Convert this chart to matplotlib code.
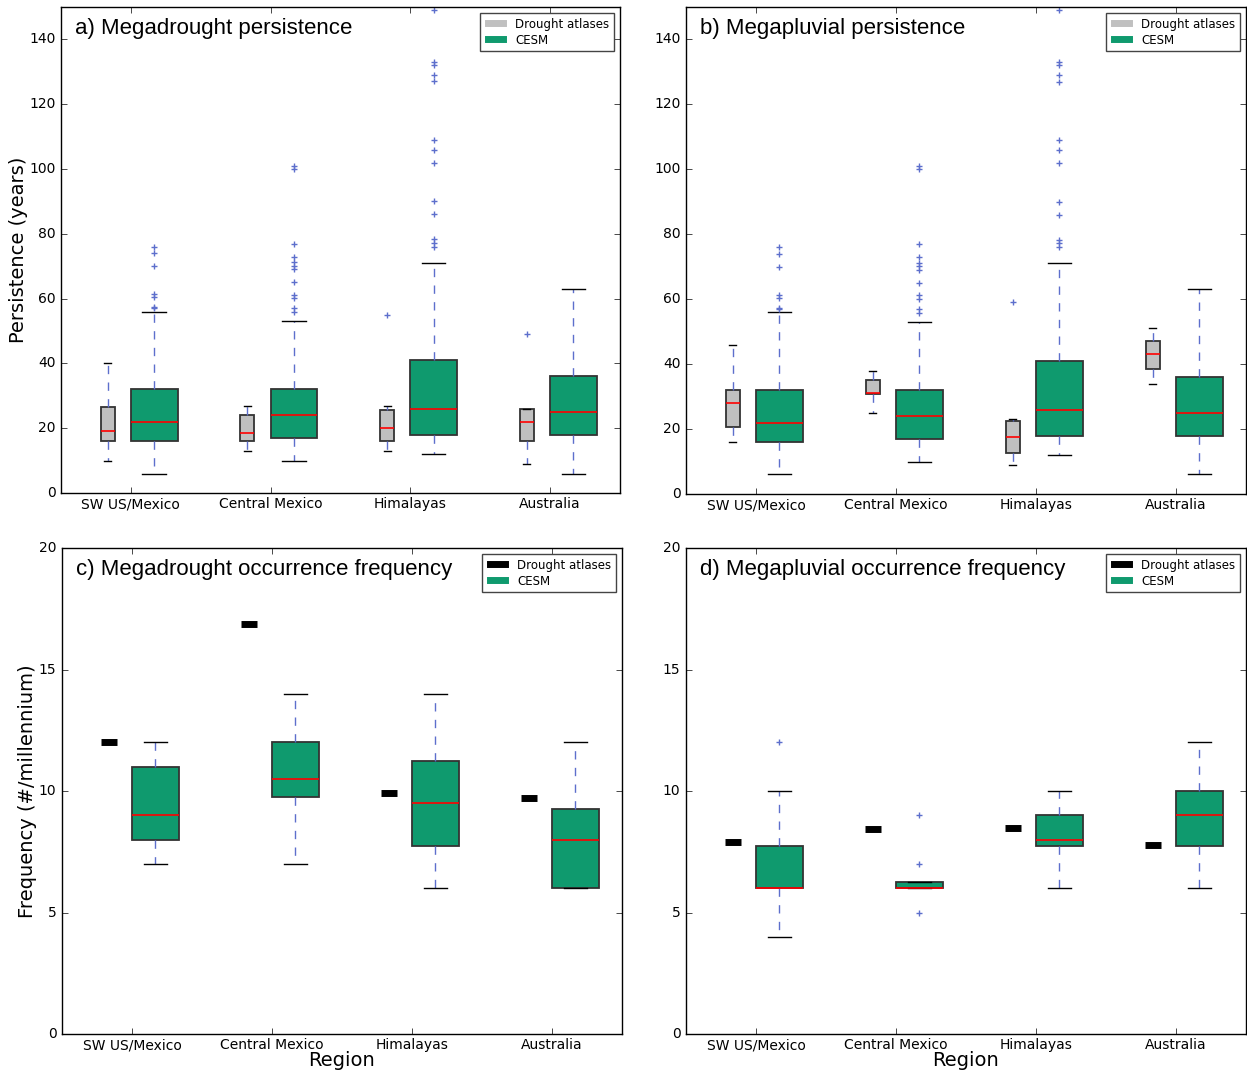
import numpy as np
import matplotlib
matplotlib.use('Agg')
import matplotlib.pyplot as plt
from matplotlib.lines import Line2D

# regions on the x axis
regions = ['SW US/Mexico', 'Central Mexico', 'Himalayas', 'Australia']

# megadrought persistence, drought atlases (years)
dro_atlas_lo = [10, 13, 13, 9]
dro_atlas_q1 = [16, 16, 16, 16]
dro_atlas_med = [19, 18.5, 20, 22]
dro_atlas_q3 = [26.5, 24, 25.5, 26]
dro_atlas_hi = [40, 27, 27, 26]
dro_atlas_fliers = [[], [], [55], [49]]

# megapluvial persistence, drought atlases (years)
plu_atlas_lo = [16, 25, 9, 34]
plu_atlas_q1 = [20.6, 30.8, 12.5, 38.6]
plu_atlas_med = [28, 31.2, 17.6, 43]
plu_atlas_q3 = [32, 35.1, 22.5, 47.2]
plu_atlas_hi = [46, 38, 23, 51]
plu_atlas_fliers = [[], [], [59], []]

# persistence in CESM (same in both top panels)
cesm_pers_lo = [6, 10, 12, 6]
cesm_pers_q1 = [16, 17, 18, 18]
cesm_pers_med = [22, 24, 26, 25]
cesm_pers_q3 = [32, 32, 41, 36]
cesm_pers_hi = [56, 53, 71, 63]
cesm_pers_fliers = [[57, 57.4, 60.4, 61.4, 70, 74, 76],
                    [55.8, 57.1, 60.2, 61.2, 65, 69.1, 70.2, 71.2, 72.9, 76.9, 100, 101],
                    [76, 77.3, 78.3, 86, 90, 102, 106, 109, 127, 129, 132, 133, 149],
                    []]

# occurrence frequency, drought atlases (#/millennium)
md_atlas = [12.0, 16.88, 9.93, 9.7]
mp_atlas = [7.92, 8.42, 8.48, 7.78]

# megadrought occurrence frequency in CESM
md_cesm_lo = [7, 7, 6, 6]
md_cesm_q1 = [8, 9.75, 7.75, 6]
md_cesm_med = [9, 10.5, 9.5, 8]
md_cesm_q3 = [11, 12, 11.25, 9.25]
md_cesm_hi = [12, 14, 14, 12]
md_cesm_fliers = [[], [], [], []]

# megapluvial occurrence frequency in CESM
mp_cesm_lo = [4, 6, 6, 6]
mp_cesm_q1 = [6, 6, 7.75, 7.75]
mp_cesm_med = [6, 6, 8, 9]
mp_cesm_q3 = [7.75, 6.25, 9, 10]
mp_cesm_hi = [10, 6.25, 10, 12]
mp_cesm_fliers = [[12], [5, 7, 9], [], []]

gray = '#c0c0c0'
green = '#0f9a6e'
wcol = '#5d6fcc'

plt.style.use('classic')
plt.rcParams['font.family'] = 'DejaVu Sans'


def make_stats(lo, q1, med, q3, hi, fl):
    '''build the stats dicts that bxp wants'''
    res = []
    for i in range(len(lo)):
        res.append(dict(whislo=lo[i], q1=q1[i], med=med[i], q3=q3[i],
                        whishi=hi[i], fliers=fl[i]))
    return res


def draw_boxes(ax, stats, pos, w, face):
    '''normal box with dashed whiskers and + fliers'''
    ax.bxp(stats, positions=pos, widths=w, patch_artist=True, manage_ticks=False,
           boxprops=dict(facecolor=face, edgecolor='#333333', linewidth=1.3),
           whiskerprops=dict(color=wcol, linestyle='--', linewidth=1),
           capprops=dict(color='k', linewidth=1),
           medianprops=dict(color='red', linewidth=1.2),
           flierprops=dict(marker='+', markeredgecolor=wcol, markersize=5,
                           linestyle='none'))


def draw_single(ax, vals, pos):
    '''atlas value drawn as a flat black box'''
    stats = make_stats(vals, vals, vals, vals, vals, [[] for v in vals])
    ax.bxp(stats, positions=pos, widths=0.115, patch_artist=True, manage_ticks=False,
           boxprops=dict(facecolor='k', edgecolor='k', linewidth=5),
           whiskerprops=dict(linewidth=0), capprops=dict(linewidth=0),
           medianprops=dict(color='k', linewidth=0), showfliers=False)


def finish(ax, title, atlas_col, ymax, ystep, top):
    '''ticks, limits, title and legend for one panel'''
    ax.set_xlim(0.5, 4.5)
    ax.set_ylim(0, ymax)
    ax.set_yticks(np.arange(0, top + 0.1, ystep))
    ax.set_xticks([1, 2, 3, 4])
    ax.set_xticklabels(regions, fontsize=10)
    ax.tick_params(axis='y', labelsize=10, pad=4)
    ax.tick_params(axis='x', pad=3)
    ax.text(0.025, 0.978, title, transform=ax.transAxes, va='top', ha='left',
            fontsize=16, family='Liberation Sans')
    handles = [Line2D([], [], color=atlas_col, lw=5), Line2D([], [], color=green, lw=5)]
    leg = ax.legend(handles, ['Drought atlases', 'CESM'], loc='upper right',
                    fontsize=8.5, handlelength=1.9, handletextpad=0.7,
                    labelspacing=0.25, borderpad=0.35, borderaxespad=0.55)
    leg.get_frame().set_edgecolor('#444444')


fig = plt.figure(figsize=(12.47, 10.72), dpi=100)
fig.patch.set_facecolor('white')
axa = fig.add_axes([0.0489, 0.5401, 0.4483, 0.4534])
axb = fig.add_axes([0.5501, 0.5392, 0.4491, 0.4543])
axc = fig.add_axes([0.0497, 0.0354, 0.4491, 0.4534])
axd = fig.add_axes([0.5501, 0.0354, 0.4491, 0.4534])

x = np.arange(1, 5)
off = 0.167

cesm_pers = make_stats(cesm_pers_lo, cesm_pers_q1, cesm_pers_med, cesm_pers_q3,
                       cesm_pers_hi, cesm_pers_fliers)

# top row: persistence
draw_boxes(axa, make_stats(dro_atlas_lo, dro_atlas_q1, dro_atlas_med, dro_atlas_q3,
                           dro_atlas_hi, dro_atlas_fliers), x - off, 0.1, gray)
draw_boxes(axa, cesm_pers, x + off, 0.335, green)
finish(axa, 'a) Megadrought persistence', gray, 150, 20, 140)
axa.set_ylabel('Persistence (years)', fontsize=14, labelpad=1)

draw_boxes(axb, make_stats(plu_atlas_lo, plu_atlas_q1, plu_atlas_med, plu_atlas_q3,
                           plu_atlas_hi, plu_atlas_fliers), x - off, 0.1, gray)
draw_boxes(axb, cesm_pers, x + off, 0.335, green)
finish(axb, 'b) Megapluvial persistence', gray, 150, 20, 140)

# bottom row: occurrence frequency
draw_single(axc, md_atlas, x - off)
draw_boxes(axc, make_stats(md_cesm_lo, md_cesm_q1, md_cesm_med, md_cesm_q3,
                           md_cesm_hi, md_cesm_fliers), x + off, 0.335, green)
finish(axc, 'c) Megadrought occurrence frequency', 'k', 20, 5, 20)
axc.set_ylabel('Frequency (#/millennium)', fontsize=14, labelpad=1)
axc.set_xlabel('Region', fontsize=14, labelpad=-1)

draw_single(axd, mp_atlas, x - off)
draw_boxes(axd, make_stats(mp_cesm_lo, mp_cesm_q1, mp_cesm_med, mp_cesm_q3,
                           mp_cesm_hi, mp_cesm_fliers), x + off, 0.335, green)
finish(axd, 'd) Megapluvial occurrence frequency', 'k', 20, 5, 20)
axd.set_xlabel('Region', fontsize=14, labelpad=-1)

fig.savefig('out.png', dpi=100, facecolor='white')
